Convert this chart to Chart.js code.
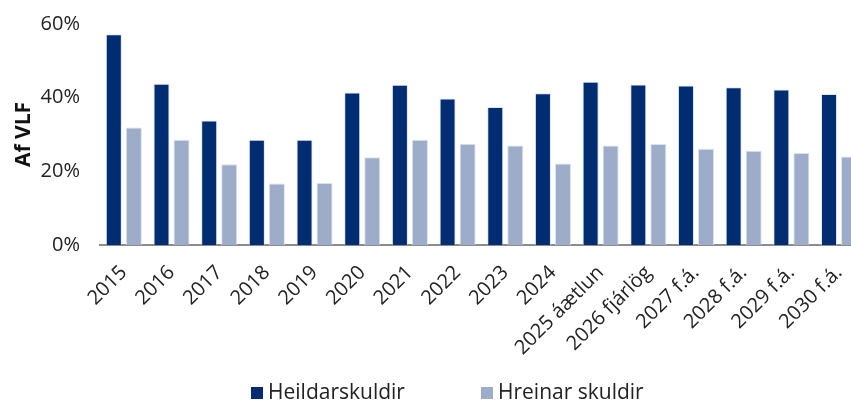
<!DOCTYPE html>
<html>
<head>
<meta charset="utf-8">
<script src="https://cdn.jsdelivr.net/npm/chart.js@4.4.1/dist/chart.umd.min.js"></script>
<style>
  html, body { margin: 0; padding: 0; background: #fff; overflow: hidden; }
  #wrap { position: relative; width: 864px; height: 403px; }
  #legend { position: absolute; top: 377px; left: 0; width: 851px; font-family: "Open Sans", sans-serif; font-size: 21px; color: #222; }
  .item { position: absolute; top: 0; white-space: nowrap; }
  .box { display: inline-block; width: 12px; height: 12px; margin-right: 5px; vertical-align: 0px; }
</style>
</head>
<body>
<div id="wrap">
  <canvas id="myChart" width="864" height="403"></canvas>
  <div id="legend"></div>
</div>
<script>
'use strict';
// categories and values (percent of GDP)
var years = ['2015', '2016', '2017', '2018', '2019', '2020', '2021', '2022', '2023', '2024',
  '2025 áætlun', '2026 fjárlög', '2027 f.á.', '2028 f.á.', '2029 f.á.', '2030 f.á.'];
var totalDebt = [57.2, 43.8, 33.8, 28.6, 28.6, 41.4, 43.5, 39.8, 37.5, 41.2, 44.3, 43.6, 43.3, 42.8, 42.2, 41.0];
var netDebt = [31.9, 28.6, 21.9, 16.7, 16.8, 23.8, 28.6, 27.5, 27.0, 22.1, 27.0, 27.4, 26.1, 25.6, 25.0, 24.0];
var yTicks = [0, 20, 40, 60];
var seriesNames = ['Heildarskuldir', 'Hreinar skuldir'];

var darkBlue = 'rgb(0, 45, 114)';
var lightBlue = 'rgb(157, 172, 200)';
var font = '"Open Sans", sans-serif';

//the 2025 bar has a light blue outline in the original
var darkBorders = years.map(function(y, i) {
  return i === 10 ? 'rgb(190, 220, 250)' : 'rgba(200, 210, 230, 0.6)';
});

var ctx = document.getElementById('myChart').getContext('2d');
var chart = new Chart(ctx, {
  type: 'bar',
  data: {
    labels: years,
    datasets: [{
      label: seriesNames[0],
      backgroundColor: darkBlue,
      borderColor: darkBorders,
      borderWidth: 1,
      data: totalDebt,
    },
    {
      label: seriesNames[1],
      backgroundColor: lightBlue,
      borderColor: 'rgba(215, 222, 235, 0.9)',
      borderWidth: 1,
      data: netDebt,
    }],
  },
  options: {
    responsive: false,
    animation: false,
    layout: { padding: { top: 14, left: 0, right: 0, bottom: 0 } },
    plugins: { legend: { display: false }, tooltip: { enabled: false } },
    datasets: { bar: { categoryPercentage: 0.84, barPercentage: 0.8 } },
    scales: {
      x: {
        grid: { display: false },
        border: { display: true, color: '#8c8c8c', width: 2 },
        ticks: {
          color: '#222',
          font: { family: font, size: 20 },
          minRotation: 45,
          maxRotation: 45,
          autoSkip: false,
          padding: 8,
        },
        afterFit: function(scale) { scale.height = 158; },
      },
      y: {
        min: 0,
        max: 60,
        grid: { display: false },
        border: { display: false },
        afterBuildTicks: function(scale) {
          scale.ticks = yTicks.map(function(v) { return { value: v }; });
        },
        ticks: {
          color: '#222',
          font: { family: font, size: 20 },
          padding: 12,
          callback: function(v) { return v + '%'; },
        },
        title: {
          display: true,
          text: 'Af VLF',
          color: '#111',
          font: { family: font, size: 21, weight: 'bold' },
          padding: { top: 11, bottom: 0 },
        },
        afterFit: function(scale) { scale.width = 100; },
      },
    },
  },
});

// legend below the chart
var legend = document.getElementById('legend');
var legendLeft = [251, 481];
var legendColors = [darkBlue, lightBlue];
for (var i = 0; i < seriesNames.length; i++) {
  var item = document.createElement('div');
  item.className = 'item';
  item.style.left = legendLeft[i] + 'px';
  item.innerHTML = '<span class="box" style="background:' + legendColors[i] + '"></span>' + seriesNames[i];
  legend.appendChild(item);
}
</script>
</body>
</html>
